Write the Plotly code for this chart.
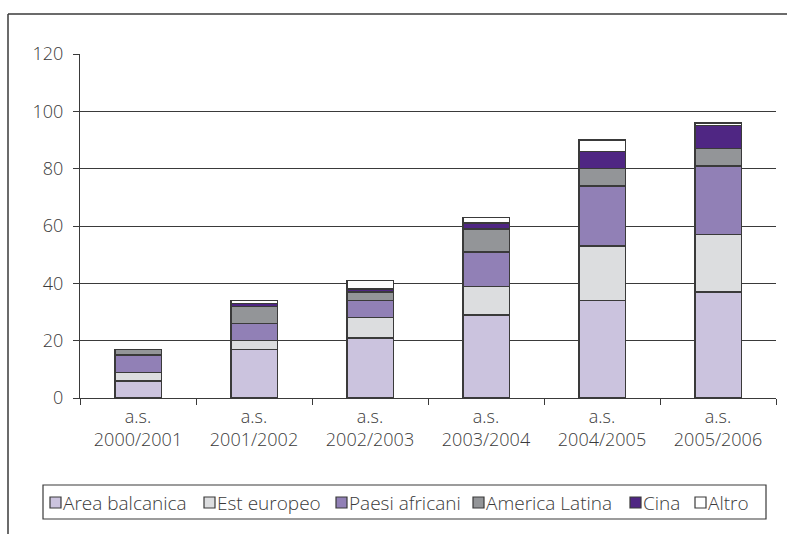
import plotly.graph_objects as go

years = ["a.s.<br>2000/2001", "a.s.<br>2001/2002", "a.s.<br>2002/2003",
         "a.s.<br>2003/2004", "a.s.<br>2004/2005", "a.s.<br>2005/2006"]

area_balcanica = [6, 17, 21, 29, 34, 37]
est_europeo = [3, 3, 7, 10, 19, 20]
paesi_africani = [6, 6, 6, 12, 21, 24]
america_latina = [2, 6, 3, 8, 6, 6]
cina = [0, 1, 1, 2, 6, 8]
altro = [0, 1, 3, 2, 4, 1]

series = [
    ("Area balcanica", area_balcanica, "#CBC3DE"),
    ("Est europeo", est_europeo, "#DCDDDF"),
    ("Paesi africani", paesi_africani, "#9180B6"),
    ("America Latina", america_latina, "#939598"),
    ("Cina", cina, "#4F2683"),
    ("Altro", altro, "#FFFFFF"),
]

FONT = "Open Sans"
INK = "#3a3a3a"
W, H = 787, 534
ML, MR, MT, MB = 80, 11, 54, 136
PW, PH = W - ML - MR, H - MT - MB


def px_x(px):
    """Pixel column -> paper x."""
    return (px - ML) / PW


def px_y(py):
    """Pixel row -> paper y."""
    return (H - MB - py) / PH


fig = go.Figure()
for name, vals, color in series:
    fig.add_trace(go.Bar(
        name=name, x=years, y=vals, showlegend=False,
        marker=dict(color=color, line=dict(color=INK, width=1.4)),
    ))

shapes = []
annotations = []

# outer frame around the chart (left and top edges)
shapes.append(dict(type="line", xref="paper", yref="paper",
                   x0=px_x(8), x1=px_x(8), y0=px_y(600), y1=px_y(14),
                   line=dict(color=INK, width=1.5)))
shapes.append(dict(type="line", xref="paper", yref="paper",
                   x0=px_x(8), x1=px_x(900), y0=px_y(14), y1=px_y(14),
                   line=dict(color=INK, width=1.5)))

# legend: boxed row of swatches with labels
legend_box = (43, 485, 766, 519)
swatch_left = [50, 204, 336, 473, 630, 695]
shapes.append(dict(type="rect", xref="paper", yref="paper",
                   x0=px_x(legend_box[0]), x1=px_x(legend_box[2]),
                   y0=px_y(legend_box[3]), y1=px_y(legend_box[1]),
                   line=dict(color=INK, width=1.2), fillcolor="white"))
ymid = (legend_box[1] + legend_box[3]) / 2 + 0.5
for (name, _, color), sx in zip(series, swatch_left):
    shapes.append(dict(type="rect", xref="paper", yref="paper",
                       x0=px_x(sx), x1=px_x(sx + 11),
                       y0=px_y(ymid + 5.5), y1=px_y(ymid - 5.5),
                       line=dict(color=INK, width=1.2), fillcolor=color))
    annotations.append(dict(xref="paper", yref="paper",
                            x=px_x(sx + 11), y=px_y(ymid),
                            xanchor="left", yanchor="middle",
                            text=name, showarrow=False,
                            font=dict(family=FONT, size=19, color=INK, weight=300)))

fig.update_layout(
    barmode="stack",
    bargap=0.6,
    width=W, height=H,
    margin=dict(l=ML, r=MR, t=MT, b=MB, autoexpand=False),
    paper_bgcolor="white",
    plot_bgcolor="white",
    font=dict(family=FONT, size=18, color=INK, weight=300),
    showlegend=False,
    shapes=shapes,
    annotations=annotations,
    xaxis=dict(
        showline=True, linecolor=INK, linewidth=1.3,
        ticks="outside", ticklen=6, tickcolor=INK, tickwidth=1.3,
        tickson="boundaries",
        ticklabelstandoff=2,
        tickfont=dict(family=FONT, size=18, color=INK, weight=300),
        showgrid=False,
    ),
    yaxis=dict(
        range=[0, 120], dtick=20,
        showline=True, linecolor=INK, linewidth=1.3,
        ticks="outside", ticklen=6, tickcolor=INK, tickwidth=1.3,
        ticklabelstandoff=6,
        showgrid=True, gridcolor=INK, gridwidth=1.2,
        tickfont=dict(family=FONT, size=18, color=INK, weight=300),
        zeroline=False,
    ),
)

fig.write_html("out.html")
